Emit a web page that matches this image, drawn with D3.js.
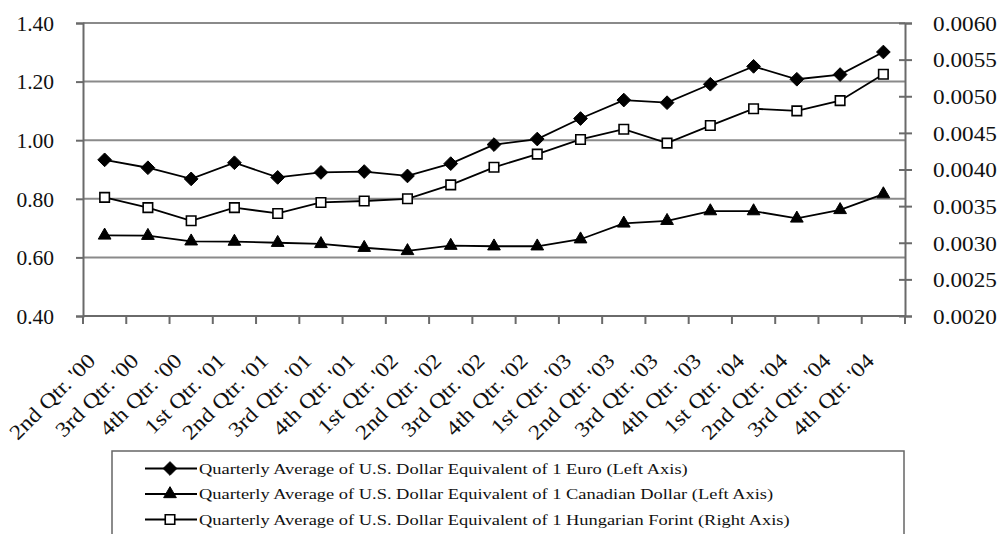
<!DOCTYPE html>
<html>
<head>
<meta charset="utf-8">
<script src="https://cdn.jsdelivr.net/npm/d3@7"></script>
<style>
  html, body { margin: 0; padding: 0; background: #fff; }
  svg { display: block; }
  text { font-family: "Liberation Serif", "Times New Roman", serif; fill: #111; }
</style>
</head>
<body>
<svg id="chart" width="999" height="534"></svg>
<script>
// Quarterly periods, Q2 2000 through Q4 2004
const quarters = [
  "2nd Qtr. '00", "3rd Qtr. '00", "4th Qtr. '00",
  "1st Qtr. '01", "2nd Qtr. '01", "3rd Qtr. '01", "4th Qtr. '01",
  "1st Qtr. '02", "2nd Qtr. '02", "3rd Qtr. '02", "4th Qtr. '02",
  "1st Qtr. '03", "2nd Qtr. '03", "3rd Qtr. '03", "4th Qtr. '03",
  "1st Qtr. '04", "2nd Qtr. '04", "3rd Qtr. '04", "4th Qtr. '04"
];

// U.S. dollars per 1 euro (left axis)
const euro = [0.933, 0.906, 0.868, 0.923, 0.873, 0.890, 0.893, 0.878, 0.920,
              0.985, 1.004, 1.074, 1.137, 1.128, 1.191, 1.252, 1.208, 1.224, 1.301];

// U.S. dollars per 1 Canadian dollar (left axis)
const cad = [0.675, 0.674, 0.655, 0.654, 0.650, 0.646, 0.633, 0.622, 0.640,
             0.638, 0.638, 0.662, 0.716, 0.725, 0.758, 0.758, 0.733, 0.762, 0.816];

// U.S. dollars per 1 Hungarian forint (right axis)
const forint = [0.00362, 0.00348, 0.00330, 0.00348, 0.00340, 0.00355, 0.00357, 0.00360, 0.00379,
                0.00403, 0.00421, 0.00441, 0.00455, 0.00436, 0.00460, 0.00483, 0.00480, 0.00494, 0.00530];

const leftTicks = [0.40, 0.60, 0.80, 1.00, 1.20, 1.40];
const rightTicks = [0.0020, 0.0025, 0.0030, 0.0035, 0.0040, 0.0045, 0.0050, 0.0055, 0.0060];

const legendLabels = [
  "Quarterly Average of U.S. Dollar Equivalent of 1 Euro (Left Axis)",
  "Quarterly Average of U.S. Dollar Equivalent of 1 Canadian Dollar (Left Axis)",
  "Quarterly Average of U.S. Dollar Equivalent of 1 Hungarian Forint (Right Axis)"
];

const svg = d3.select("#chart");
const plot = { left: 83, right: 905, top: 23, bottom: 316 };

const x = d3.scaleBand().domain(quarters).range([plot.left, plot.right]).padding(0);
const cx = d => x(d) + x.bandwidth() / 2;
const yL = d3.scaleLinear().domain([0.4, 1.4]).range([plot.bottom, plot.top]);
const yR = d3.scaleLinear().domain([0.002, 0.006]).range([plot.bottom, plot.top]);

const gridColor = "#8a8a8a";
const axisColor = "#6a6a6a";
const serif = "'Liberation Serif', 'Times New Roman', serif";

// horizontal gridlines
svg.append("g").selectAll("line")
  .data(leftTicks.filter(v => v > 0.4))
  .join("line")
  .attr("x1", plot.left).attr("x2", plot.right)
  .attr("y1", d => yL(d)).attr("y2", d => yL(d))
  .attr("stroke", gridColor).attr("stroke-width", 2);

// left axis
const gLeft = svg.append("g")
  .attr("transform", `translate(${plot.left},0)`)
  .call(d3.axisLeft(yL).tickValues(leftTicks).tickFormat(d3.format(".2f"))
        .tickSize(7).tickPadding(22));
gLeft.select(".domain").attr("stroke", axisColor).attr("stroke-width", 2);
gLeft.selectAll(".tick line").attr("stroke", axisColor).attr("stroke-width", 2);
gLeft.selectAll(".tick text")
  .style("font-family", serif)
  .style("font-size", "21.5px").attr("fill", "#111").attr("dy", "0.34em");

// right axis, ticks crossing the axis line
const gRight = svg.append("g")
  .attr("transform", `translate(${plot.right},0)`)
  .call(d3.axisRight(yR).tickValues(rightTicks).tickFormat(d3.format(".4f"))
        .tickSize(7).tickPadding(19));
gRight.select(".domain").attr("stroke", axisColor).attr("stroke-width", 2);
gRight.selectAll(".tick line").attr("x1", -6).attr("stroke", axisColor).attr("stroke-width", 2);
gRight.selectAll(".tick text")
  .style("font-family", serif)
  .style("font-size", "21.5px").attr("fill", "#111").attr("dy", "0.34em")
  .attr("transform", "scale(1.08,1)");

// bottom axis with tick marks between categories
const gBottom = svg.append("g");
gBottom.append("line")
  .attr("x1", plot.left).attr("x2", plot.right)
  .attr("y1", plot.bottom).attr("y2", plot.bottom)
  .attr("stroke", axisColor).attr("stroke-width", 2);
const boundaries = quarters.map(q => x(q)).concat([x(quarters[quarters.length - 1]) + x.bandwidth()]);
gBottom.selectAll("line.tk")
  .data(boundaries)
  .join("line").attr("class", "tk")
  .attr("x1", d => d).attr("x2", d => d)
  .attr("y1", plot.bottom).attr("y2", plot.bottom + 8)
  .attr("stroke", axisColor).attr("stroke-width", 2);

// rotated category labels
gBottom.selectAll("text")
  .data(quarters)
  .join("text")
  .attr("text-anchor", "end")
  .attr("transform", d => `translate(${cx(d) - 8},${plot.bottom + 46}) rotate(-45) scale(1.13,1)`)
  .style("font-size", "21px")
  .text(d => d);

// series lines and markers
const lineL = d3.line().x((d, i) => cx(quarters[i])).y(d => yL(d));
const lineR = d3.line().x((d, i) => cx(quarters[i])).y(d => yR(d));

const series = [
  { values: euro, line: lineL, y: yL, marker: "diamond" },
  { values: cad, line: lineL, y: yL, marker: "triangle" },
  { values: forint, line: lineR, y: yR, marker: "square" }
];

const symbolFor = {
  diamond: d3.symbol().type(d3.symbolDiamond2).size(120)(),
  triangle: d3.symbol().type(d3.symbolTriangle).size(70)(),
  square: d3.symbol().type(d3.symbolSquare).size(90)()
};

function drawMarker(sel, kind) {
  sel.append("path")
    .attr("d", symbolFor[kind])
    .attr("fill", kind === "square" ? "#fff" : "#000")
    .attr("stroke", "#000")
    .attr("stroke-width", kind === "square" ? 1.6 : 1)
    .attr("stroke-linejoin", "miter");
}

series.forEach(s => {
  svg.append("path")
    .datum(s.values)
    .attr("d", s.line)
    .attr("fill", "none")
    .attr("stroke", "#000")
    .attr("stroke-width", 1.8);
  svg.append("g").selectAll("g")
    .data(s.values)
    .join("g")
    .attr("transform", (d, i) => `translate(${cx(quarters[i])},${s.y(d)})`)
    .each(function () { drawMarker(d3.select(this), s.marker); });
});

// legend
const legend = svg.append("g");
legend.append("rect")
  .attr("x", 112).attr("y", 451).attr("width", 792).attr("height", 100)
  .attr("fill", "#fff").attr("stroke", "#666").attr("stroke-width", 1.5);
const rows = legend.selectAll("g.row")
  .data(legendLabels)
  .join("g").attr("class", "row")
  .attr("transform", (d, i) => `translate(0,${468.5 + i * 25.5})`);
rows.append("line")
  .attr("x1", 145).attr("x2", 197).attr("y1", 0).attr("y2", 0)
  .attr("stroke", "#000").attr("stroke-width", 1.8);
rows.each(function (d, i) {
  const g = d3.select(this).append("g").attr("transform", "translate(170,0)");
  drawMarker(g, series[i].marker);
});
rows.append("text")
  .attr("transform", "translate(199,0) scale(1.19,1)")
  .attr("dy", "0.34em")
  .style("font-size", "15.5px")
  .text(d => d);
</script>
</body>
</html>
